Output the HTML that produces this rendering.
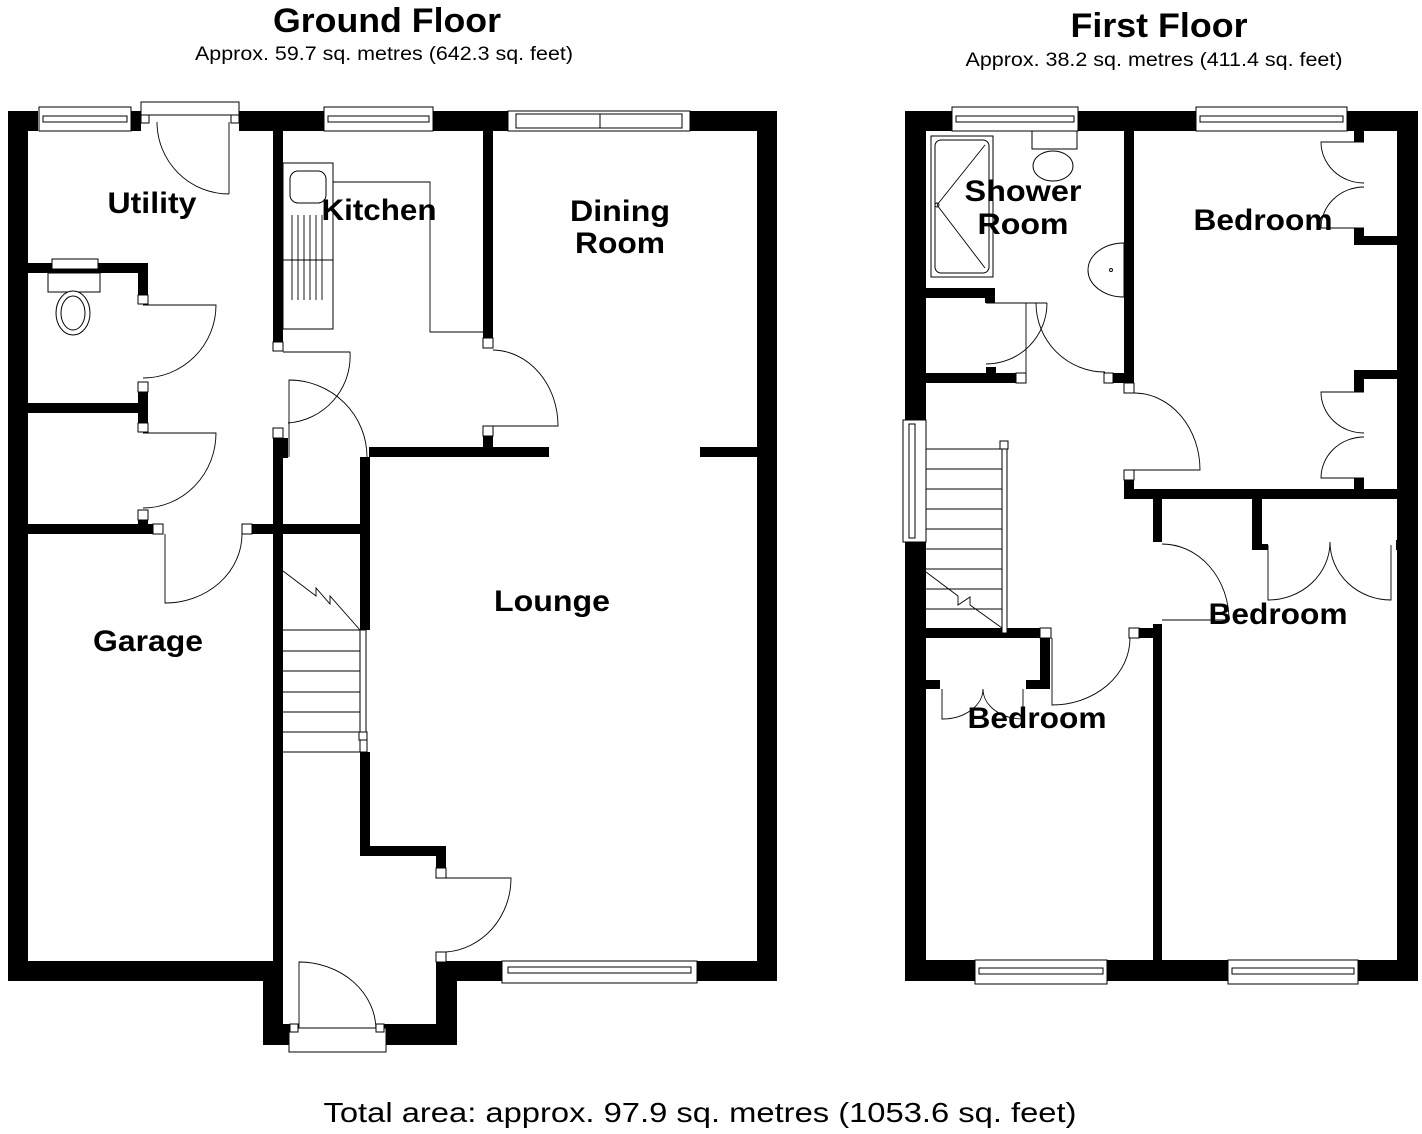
<!DOCTYPE html>
<html><head><meta charset="utf-8"><style>html,body{margin:0;padding:0;background:#fff}svg{display:block}</style></head>
<body>
<svg width="1422" height="1134" viewBox="0 0 1422 1134" xmlns="http://www.w3.org/2000/svg" font-family="Liberation Sans, Arial, sans-serif">
<rect width="1422" height="1134" fill="#fff"/>
<!-- headings -->
<text x="387" y="32" font-size="34" font-weight="bold" text-anchor="middle" textLength="228" lengthAdjust="spacingAndGlyphs">Ground Floor</text>
<text x="384" y="60" font-size="19" text-anchor="middle" textLength="378" lengthAdjust="spacingAndGlyphs">Approx. 59.7 sq. metres (642.3 sq. feet)</text>
<text x="1159" y="37" font-size="34" font-weight="bold" text-anchor="middle" textLength="177" lengthAdjust="spacingAndGlyphs">First Floor</text>
<text x="1154" y="66" font-size="19" text-anchor="middle" textLength="377" lengthAdjust="spacingAndGlyphs">Approx. 38.2 sq. metres (411.4 sq. feet)</text>
<text x="700" y="1122" font-size="28" text-anchor="middle" textLength="753" lengthAdjust="spacingAndGlyphs">Total area: approx. 97.9 sq. metres (1053.6 sq. feet)</text>

<g fill="#000">
<!-- ground walls -->
<rect x="8" y="111" width="30" height="20"/><rect x="131" y="111" width="10" height="20"/>
<rect x="239" y="111" width="85" height="20"/><rect x="433" y="111" width="75" height="20"/>
<rect x="690" y="111" width="87" height="20"/>
<rect x="8" y="111" width="20" height="869"/><rect x="757" y="111" width="20" height="869"/>
<rect x="273" y="131" width="10" height="211"/>
<rect x="483" y="131" width="10" height="207"/>
<rect x="483" y="436" width="10" height="21"/>
<rect x="369" y="447" width="180" height="10"/><rect x="700" y="447" width="57" height="10"/>
<rect x="28" y="263" width="120" height="10"/><rect x="138" y="263" width="10" height="32"/>
<rect x="138" y="392" width="10" height="31"/><rect x="28" y="403" width="120" height="10"/>
<rect x="138" y="520" width="10" height="5"/><rect x="28" y="524" width="125" height="10"/>
<rect x="252" y="524" width="108" height="10"/>
<rect x="273" y="438" width="10" height="542"/><rect x="283" y="438" width="5" height="20"/>
<rect x="360" y="457" width="10" height="173"/>
<rect x="360" y="752" width="10" height="103"/><rect x="360" y="846" width="86" height="10"/>
<rect x="436" y="846" width="10" height="22"/>
<rect x="436" y="961" width="66" height="20"/><rect x="697" y="961" width="80" height="20"/>
<rect x="8" y="961" width="275" height="20"/>
<rect x="263" y="961" width="20" height="84"/><rect x="263" y="1024" width="27" height="21"/>
<rect x="436" y="961" width="21" height="84"/><rect x="384" y="1024" width="73" height="21"/>
<!-- first walls -->
<rect x="905" y="111" width="21" height="309"/><rect x="905" y="542" width="21" height="439"/>
<rect x="905" y="111" width="47" height="20"/><rect x="1078" y="111" width="118" height="20"/>
<rect x="1347" y="111" width="71" height="20"/>
<rect x="1397" y="111" width="21" height="870"/>
<rect x="905" y="960" width="70" height="21"/><rect x="1107" y="960" width="121" height="21"/><rect x="1358" y="960" width="60" height="21"/>
<rect x="1124" y="131" width="10" height="242"/><rect x="1113" y="373" width="21" height="10"/>
<rect x="1124" y="480" width="10" height="19"/><rect x="1124" y="489" width="294" height="10"/>
<rect x="926" y="288" width="69" height="10"/><rect x="985" y="298" width="10" height="5"/>
<rect x="926" y="373" width="90" height="10"/><rect x="986" y="367" width="10" height="6"/>
<rect x="1354" y="131" width="10" height="11"/><rect x="1354" y="228" width="10" height="17"/><rect x="1354" y="236" width="43" height="9"/>
<rect x="1354" y="370" width="43" height="9"/><rect x="1354" y="370" width="10" height="22"/><rect x="1354" y="478" width="10" height="12"/>
<rect x="1153" y="499" width="9" height="43"/><rect x="1252" y="499" width="10" height="51"/><rect x="1262" y="544" width="6" height="6"/>
<rect x="1396" y="540" width="4" height="10"/>
<rect x="1153" y="624" width="9" height="337"/><rect x="1139" y="628" width="14" height="10"/>
<rect x="926" y="628" width="114" height="10"/>
<rect x="1040" y="638" width="10" height="51"/><rect x="1026" y="680" width="24" height="9"/>
<rect x="926" y="680" width="14" height="9"/>
</g>

<g fill="#fff" stroke="#000" stroke-width="1">
<!-- jambs -->
<rect x="273" y="342" width="10" height="9"/><rect x="483" y="338" width="10" height="10"/>
<rect x="483" y="426" width="10" height="10"/><rect x="138" y="295" width="10" height="9"/>
<rect x="138" y="382" width="10" height="10"/><rect x="138" y="423" width="10" height="9"/>
<rect x="138" y="510" width="10" height="10"/><rect x="153" y="524" width="10" height="10"/>
<rect x="242" y="524" width="10" height="10"/><rect x="273" y="428" width="10" height="10"/>
<rect x="436" y="868" width="10" height="10"/><rect x="436" y="952" width="10" height="10"/>
<rect x="1016" y="373" width="10" height="10"/><rect x="1104" y="373" width="9" height="10"/>
<rect x="1124" y="383" width="10" height="10"/><rect x="1124" y="470" width="10" height="10"/>
<rect x="1129" y="628" width="10" height="10"/><rect x="1040" y="628" width="11" height="10"/>
<!-- windows ground -->
<rect x="39" y="107" width="92" height="24"/><rect x="43" y="116" width="84" height="6"/>
<rect x="141" y="102" width="98" height="13"/>
<rect x="141" y="115" width="8" height="8"/><rect x="231" y="115" width="8" height="8"/>
<rect x="324" y="107" width="109" height="24"/><rect x="328" y="116" width="101" height="6"/>
<rect x="508" y="111" width="182" height="20"/><rect x="516" y="114" width="84" height="14"/><rect x="600" y="114" width="82" height="14"/>
<rect x="502" y="961" width="195" height="22"/><rect x="508" y="967" width="183" height="6"/>
<rect x="289" y="1028" width="97" height="24"/>
<rect x="290" y="1024" width="8" height="8"/><rect x="376" y="1024" width="8" height="8"/>
<rect x="52" y="259" width="46" height="10"/>
<!-- windows first -->
<rect x="952" y="107" width="126" height="24"/><rect x="956" y="116" width="118" height="6"/>
<rect x="1196" y="107" width="151" height="24"/><rect x="1200" y="116" width="143" height="6"/>
<rect x="975" y="960" width="132" height="24"/><rect x="979" y="968" width="124" height="6"/>
<rect x="1228" y="960" width="130" height="24"/><rect x="1232" y="968" width="122" height="6"/>
<rect x="903" y="420" width="23" height="122"/><rect x="909" y="424" width="6" height="114"/>
<!-- kitchen units -->
<rect x="283" y="163" width="50" height="166"/>
<rect x="290" y="171" width="36" height="32" rx="8"/>
<!-- WC ground -->
<rect x="48" y="273" width="52" height="19"/>
<ellipse cx="73" cy="313" rx="17" ry="22"/><ellipse cx="73" cy="313" rx="12" ry="17"/>
<!-- shower room -->
<rect x="931" y="136" width="62" height="141"/><rect x="935" y="140" width="54" height="133" rx="6"/>
<rect x="1032" y="131" width="45" height="18"/>
<ellipse cx="1053" cy="166" rx="20" ry="15"/>
<path d="M1124,243 A36,27 0 0 0 1124,297 Z"/>
<!-- banisters -->
<rect x="360" y="630" width="6" height="102"/><rect x="359" y="732" width="8" height="8"/><rect x="360" y="740" width="7" height="12"/>
<rect x="1002" y="445" width="5" height="188"/><rect x="1000" y="441" width="8" height="8"/>
</g>

<g fill="none" stroke="#000" stroke-width="0.9">
<!-- kitchen -->
<path d="M333,182 H430 V332 H483"/>
<path d="M292,215 V300 M298,215 V300 M304,215 V300 M310,215 V300 M316,215 V300 M322,215 V300"/>
<line x1="283" y1="260" x2="333" y2="260"/>
<!-- stairs ground -->
<path d="M283,651 H360 M283,671 H360 M283,692 H360 M283,712 H360 M283,732 H360 M283,752 H367"/>
<path d="M283,571 L316,596 L316,588 L330,604 L330,596 L360,630 H283"/>
<!-- stairs first -->
<path d="M926,449 H1002 M926,469 H1002 M926,489 H1002 M926,509 H1002 M926,529 H1002 M926,549 H1002 M926,569 H1002 M926,589 H1002 M926,609 H1002"/>
<path d="M926,572 L958,596 L958,605 L970,597 L970,605 L1002,628"/>
<!-- shower details -->
<path d="M937,205 L985,145 M937,205 L985,268"/>
<circle cx="937" cy="205" r="2"/>
<circle cx="1111" cy="270" r="1.5"/>
<!-- ground doors -->
<path d="M229,122 V194 M157,122 A72,72 0 0 0 229,194"/>
<path d="M143,305 H216 A73,73 0 0 1 143,378"/>
<path d="M143,433 H216 A73,75 0 0 1 143,508"/>
<path d="M165,534 V603 A77,69 0 0 0 242,534"/>
<path d="M283,352 H350 A67,67 0 0 1 288,423"/>
<path d="M289,457 V380 A78,77 0 0 1 367,457"/>
<path d="M493,350 A66,76 0 0 1 558,426 H493"/>
<path d="M446,878 H511 A70,74 0 0 1 446,952"/>
<path d="M299,1028 V962 A77,68 0 0 1 376,1030"/>
<!-- first doors -->
<path d="M986,303 H1047 M1026,303 V373 M1047,303 A61,61 0 0 1 986,364"/>
<path d="M1036,303 A69,69 0 0 0 1105,372"/>
<path d="M1134,393 A66,77 0 0 1 1200,470 H1134"/>
<path d="M1162,544 A67,76 0 0 1 1229,620 H1162"/>
<path d="M1052,638 V705 A78,67 0 0 0 1130,638"/>
<!-- wardrobes -->
<path d="M1268,545 V600 A62,58 0 0 0 1330,542 A61,58 0 0 0 1391,600 V545"/>
<path d="M942,689 V719 A41,30 0 0 0 983,689 A40,30 0 0 0 1023,719 V689"/>
<path d="M1364,142 H1321 A43,41 0 0 0 1364,183 M1364,228 H1321 A43,41 0 0 1 1364,187"/>
<path d="M1364,392 H1321 A43,41 0 0 0 1364,433 M1364,478 H1321 A43,41 0 0 1 1364,437"/>
</g>

<g font-weight="bold" font-size="30" text-anchor="middle" fill="#000">
<text x="152" y="213" textLength="89" lengthAdjust="spacingAndGlyphs">Utility</text>
<text x="379" y="220" textLength="115" lengthAdjust="spacingAndGlyphs">Kitchen</text>
<text x="620" y="221" textLength="100" lengthAdjust="spacingAndGlyphs">Dining</text>
<text x="620" y="253" textLength="90" lengthAdjust="spacingAndGlyphs">Room</text>
<text x="552" y="611" textLength="116" lengthAdjust="spacingAndGlyphs">Lounge</text>
<text x="148" y="651" textLength="110" lengthAdjust="spacingAndGlyphs">Garage</text>
<text x="1023" y="201" textLength="117" lengthAdjust="spacingAndGlyphs">Shower</text>
<text x="1023" y="234" textLength="91" lengthAdjust="spacingAndGlyphs">Room</text>
<text x="1263" y="230" textLength="139" lengthAdjust="spacingAndGlyphs">Bedroom</text>
<text x="1278" y="624" textLength="139" lengthAdjust="spacingAndGlyphs">Bedroom</text>
<text x="1037" y="728" textLength="139" lengthAdjust="spacingAndGlyphs">Bedroom</text>
</g>
</svg>
</body></html>
